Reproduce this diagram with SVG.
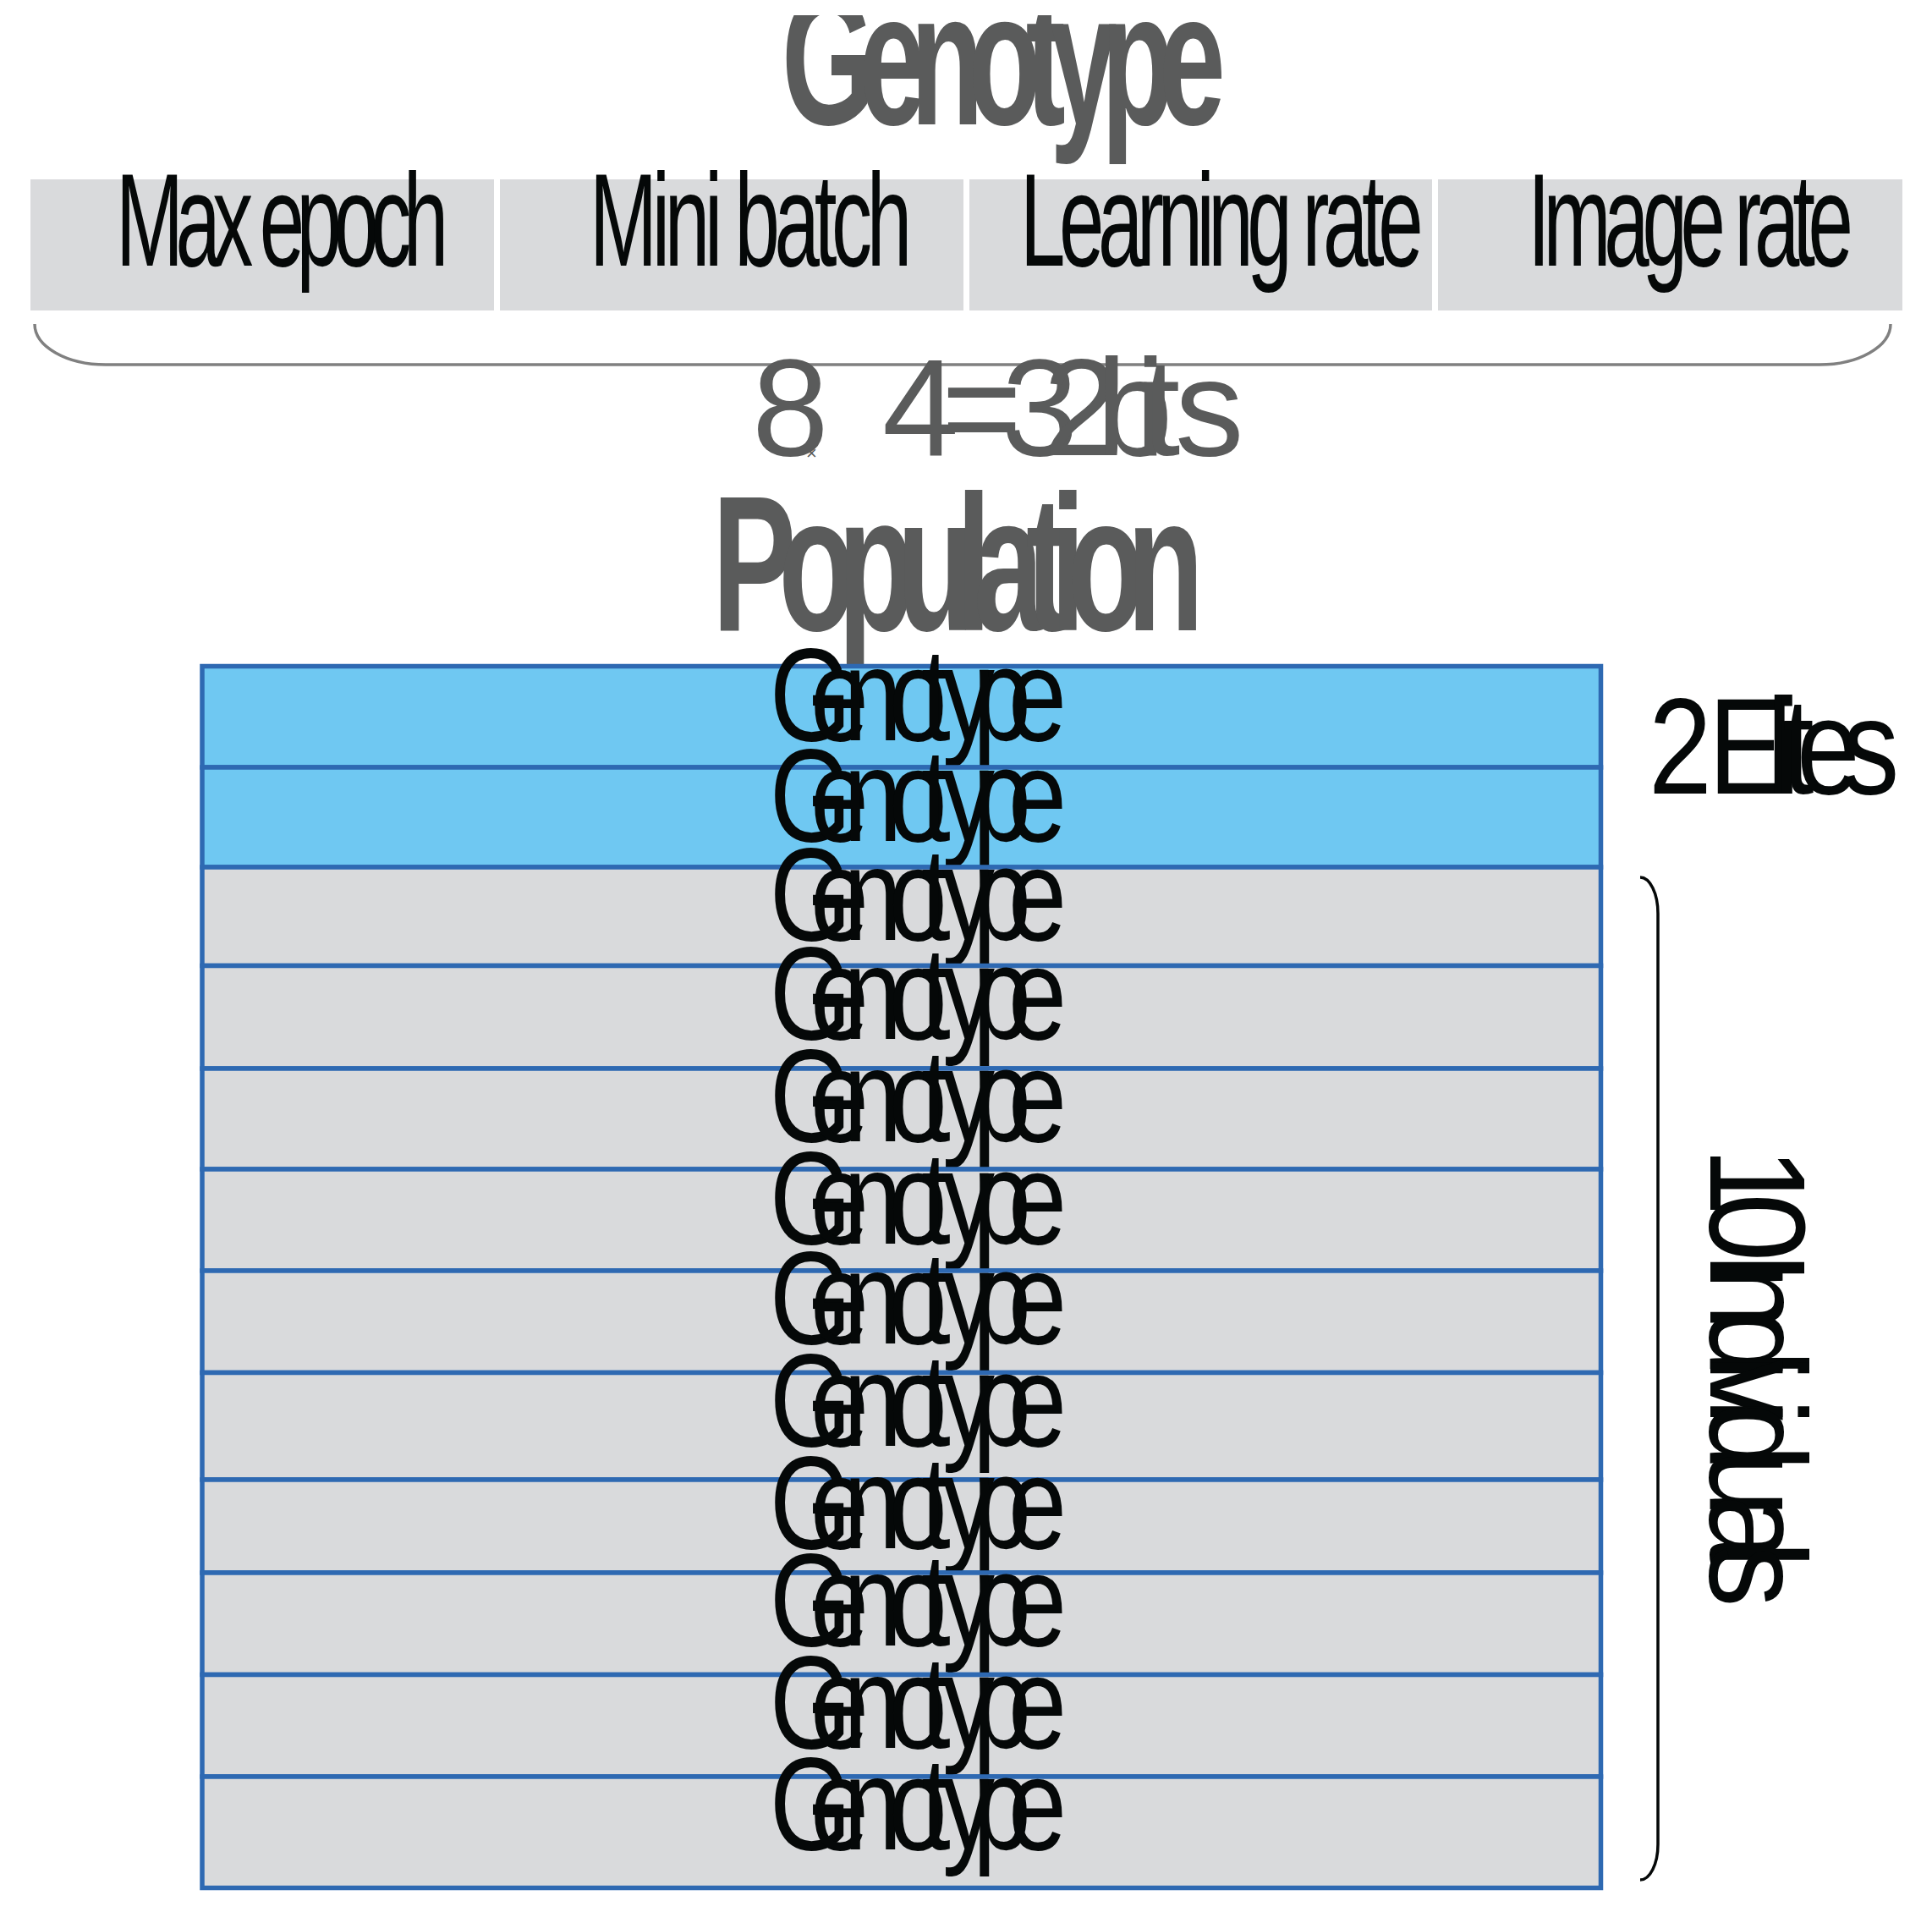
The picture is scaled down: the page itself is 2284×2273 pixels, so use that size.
<svg xmlns="http://www.w3.org/2000/svg" width="2284" height="2273" viewBox="0 0 2284 2273">
<style>
text { font-family: "Liberation Sans", Arial, sans-serif; }
.head { font-weight: bold; fill: #5a5b5b; }
.lbl { font-size: 155px; fill: #050808; }
.gene { font-size: 155px; fill: #050808; }
.bits { font-size: 163px; fill: #5a5b5b; }
.side { font-size: 162px; fill: #050808; }
.seg { fill: #d9dadc; }
.row { stroke: #2e69b2; stroke-width: 5.5; }
.elite { fill: #6fc8f2; }
.ind { fill: #d9dadc; }
.brace-top { fill: none; stroke: #808080; stroke-width: 3.5; }
.brace-side { fill: none; stroke: #050808; stroke-width: 3.5; }
</style>
<defs>
<clipPath id="titleClip"><rect x="0" y="18" width="2284" height="400"/></clipPath>
</defs>
<rect width="2284" height="2273" fill="#ffffff"/>

<g id="genotype-title" clip-path="url(#titleClip)">
<text class="head" font-size="225" transform="translate(924,147) scale(0.63,1)" textLength="833" lengthAdjust="spacing">Genotype</text>
</g>

<g id="gene-max-epoch">
<rect class="seg" x="36" y="212" width="548" height="155"/>
<text class="lbl" transform="translate(137,313.5) scale(0.62,1)" textLength="634" lengthAdjust="spacing">Max epoch</text>
</g>
<g id="gene-mini-batch">
<rect class="seg" x="591" y="212" width="548" height="155"/>
<text class="lbl" transform="translate(697,313.5) scale(0.62,1)" textLength="615" lengthAdjust="spacing">Mini batch</text>
</g>
<g id="gene-learning-rate">
<rect class="seg" x="1146" y="212" width="547" height="155"/>
<text class="lbl" transform="translate(1206,313.5) scale(0.62,1)" textLength="769" lengthAdjust="spacing">Learning rate</text>
</g>
<g id="gene-image-rate">
<rect class="seg" x="1700" y="212" width="549" height="155"/>
<text class="lbl" transform="translate(1806,313.5) scale(0.62,1)" textLength="621" lengthAdjust="spacing">Image rate</text>
</g>

<g id="connectors">
<path class="brace-top" d="M41,383 A84,48 0 0 0 125,431 L2151,431 A84,48 0 0 0 2235,383"/>
<path class="brace-side" d="M1939,1037 A21,43 0 0 1 1960,1080 L1960,2180 A21,42 0 0 1 1939,2222"/>
</g>

<g id="bits-label">
<text class="bits" y="538"><tspan x="889">8</tspan><tspan x="953" y="543" font-size="22">×</tspan><tspan x="1043 1113 1184 1233 1296 1342 1350 1389" y="538">4=32bits</tspan></text>
</g>

<g id="population-title">
<text class="head" font-size="229" transform="translate(842,745) scale(0.65,1)" textLength="894" lengthAdjust="spacing">Population</text>
</g>

<g id="population">
<g id="row-1"><rect class="row elite" x="239" y="787.5" width="1653.5" height="119.5"/>
<text class="gene" transform="translate(910,875) scale(0.8,1)" x="0 60 109 176 224 255 300 352.5">Genotype</text></g>
<g id="row-2"><rect class="row elite" x="239" y="907" width="1653.5" height="118"/>
<text class="gene" transform="translate(910,993.5) scale(0.8,1)" x="0 60 109 176 224 255 300 352.5">Genotype</text></g>
<g id="row-3"><rect class="row ind" x="239" y="1025" width="1653.5" height="116.5"/>
<text class="gene" transform="translate(910,1111) scale(0.8,1)" x="0 60 109 176 224 255 300 352.5">Genotype</text></g>
<g id="row-4"><rect class="row ind" x="239" y="1141.5" width="1653.5" height="121.5"/>
<text class="gene" transform="translate(910,1228) scale(0.8,1)" x="0 60 109 176 224 255 300 352.5">Genotype</text></g>
<g id="row-5"><rect class="row ind" x="239" y="1263" width="1653.5" height="119"/>
<text class="gene" transform="translate(910,1348.5) scale(0.8,1)" x="0 60 109 176 224 255 300 352.5">Genotype</text></g>
<g id="row-6"><rect class="row ind" x="239" y="1382" width="1653.5" height="120"/>
<text class="gene" transform="translate(910,1470) scale(0.8,1)" x="0 60 109 176 224 255 300 352.5">Genotype</text></g>
<g id="row-7"><rect class="row ind" x="239" y="1502" width="1653.5" height="120.5"/>
<text class="gene" transform="translate(910,1588) scale(0.8,1)" x="0 60 109 176 224 255 300 352.5">Genotype</text></g>
<g id="row-8"><rect class="row ind" x="239" y="1622.5" width="1653.5" height="126.5"/>
<text class="gene" transform="translate(910,1709) scale(0.8,1)" x="0 60 109 176 224 255 300 352.5">Genotype</text></g>
<g id="row-9"><rect class="row ind" x="239" y="1749" width="1653.5" height="110"/>
<text class="gene" transform="translate(910,1829.5) scale(0.8,1)" x="0 60 109 176 224 255 300 352.5">Genotype</text></g>
<g id="row-10"><rect class="row ind" x="239" y="1859" width="1653.5" height="120.5"/>
<text class="gene" transform="translate(910,1944.5) scale(0.8,1)" x="0 60 109 176 224 255 300 352.5">Genotype</text></g>
<g id="row-11"><rect class="row ind" x="239" y="1979.5" width="1653.5" height="120.5"/>
<text class="gene" transform="translate(910,2065.5) scale(0.8,1)" x="0 60 109 176 224 255 300 352.5">Genotype</text></g>
<g id="row-12"><rect class="row ind" x="239" y="2100" width="1653.5" height="131.5"/>
<text class="gene" transform="translate(910,2186) scale(0.8,1)" x="0 60 109 176 224 255 300 352.5">Genotype</text></g>
</g>

<g id="elites-label">
<text class="side" font-size="166" transform="translate(1949,938) scale(0.83,1)" textLength="357" lengthAdjust="spacing">2 Elites</text>
</g>

<g id="individuals-label">
<text class="side" font-size="160" transform="translate(2022,1356) rotate(90) scale(0.9,1)" textLength="604" lengthAdjust="spacing">10 Individuals</text>
</g>
</svg>
